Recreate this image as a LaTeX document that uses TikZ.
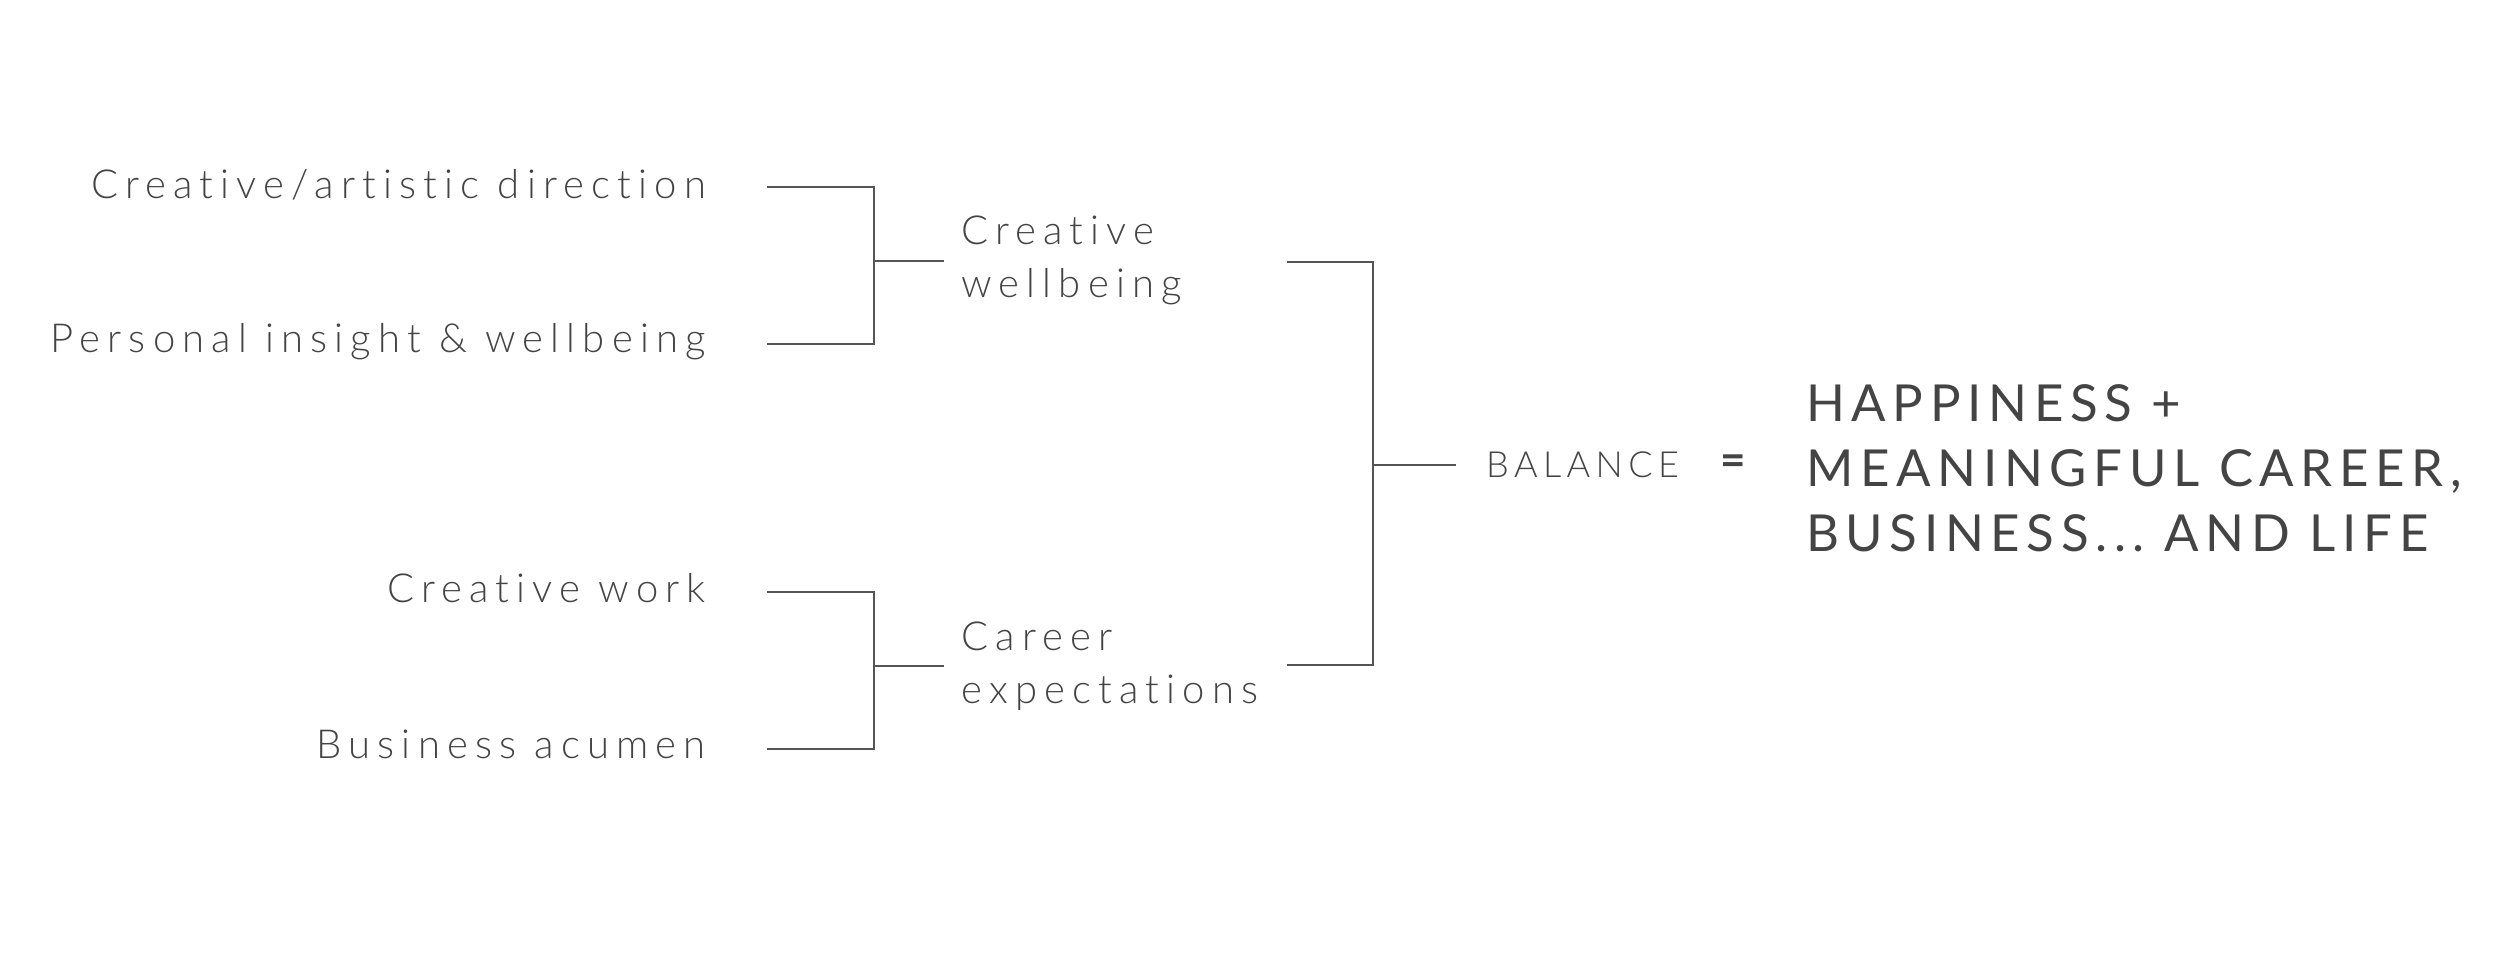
\documentclass[tikz,border=0pt]{standalone}
\usepackage{fontspec}
\newfontfamily\lightf{Lato Light}[LetterSpace=18,Ligatures={NoCommon,NoRare}]
\newfontfamily\balf{Lato Light}[LetterSpace=15,Ligatures={NoCommon,NoRare}]
\newfontfamily\bigf{Lato}[LetterSpace=13,Ligatures={NoCommon,NoRare}]
\definecolor{txt}{HTML}{444444}
\definecolor{ln}{HTML}{555555}
\begin{document}
\begin{tikzpicture}[x=1pt,y=-1pt,
  lbl/.style={inner sep=0pt, text=txt, font=\lightf\fontsize{40}{53}\selectfont},
  grp/.style={lbl, align=left, anchor=west},
  brk/.style={draw=ln, line width=1.8pt}]
\useasboundingbox (0,0) rectangle (2500,967);
\node[lbl, anchor=east] (a1) at (706,185) {Creative/artistic direction};
\node[lbl, anchor=east] (a2) at (706,342) {Personal insight \& wellbeing};
\node[lbl, anchor=east] (c1) at (706,588) {Creative work};
\node[lbl, anchor=east] (c2) at (706,744) {Business acumen};
\node[grp] (b1) at (961,260) {Creative\\wellbeing};
\node[grp] (b2) at (961,666) {Career\\expectations};
\node[inner sep=0pt, anchor=west, text=txt, font=\balf\fontsize{36}{40}\selectfont] (bal) at (1486,465) {BALANCE};
\node[inner sep=0pt, text=txt, font=\bigf\fontsize{44}{48}\selectfont\bfseries] (eq) at (1733,465) {=};
\node[inner sep=0pt, anchor=west, align=left, text=txt, font=\bigf\fontsize{51}{65}\selectfont] (res) at (1806,468) {HAPPINESS +\\MEANINGFUL CAREER,\\BUSINESS...\ AND LIFE};
% bracket joints
\coordinate (p1) at (767,187); \coordinate (p2) at (767,344);
\coordinate (v1) at (874,187); \coordinate (v2) at (874,344); \coordinate (m1) at (874,261); \coordinate (e1) at (944,261);
\coordinate (q1) at (767,592); \coordinate (q2) at (767,749);
\coordinate (w1) at (874,592); \coordinate (w2) at (874,749); \coordinate (m2) at (874,666); \coordinate (e2) at (944,666);
\coordinate (r1) at (1287,262); \coordinate (r2) at (1287,665);
\coordinate (s1) at (1373,262); \coordinate (s2) at (1373,665); \coordinate (m3) at (1373,465); \coordinate (e3) at (1456,465);
\draw[brk] (p1) -- (v1) -- (v2) -- (p2);
\draw[brk] (m1) -- (e1);
\draw[brk] (q1) -- (w1) -- (w2) -- (q2);
\draw[brk] (m2) -- (e2);
\draw[brk] (r1) -- (s1) -- (s2) -- (r2);
\draw[brk] (m3) -- (e3);
\end{tikzpicture}
\end{document}
